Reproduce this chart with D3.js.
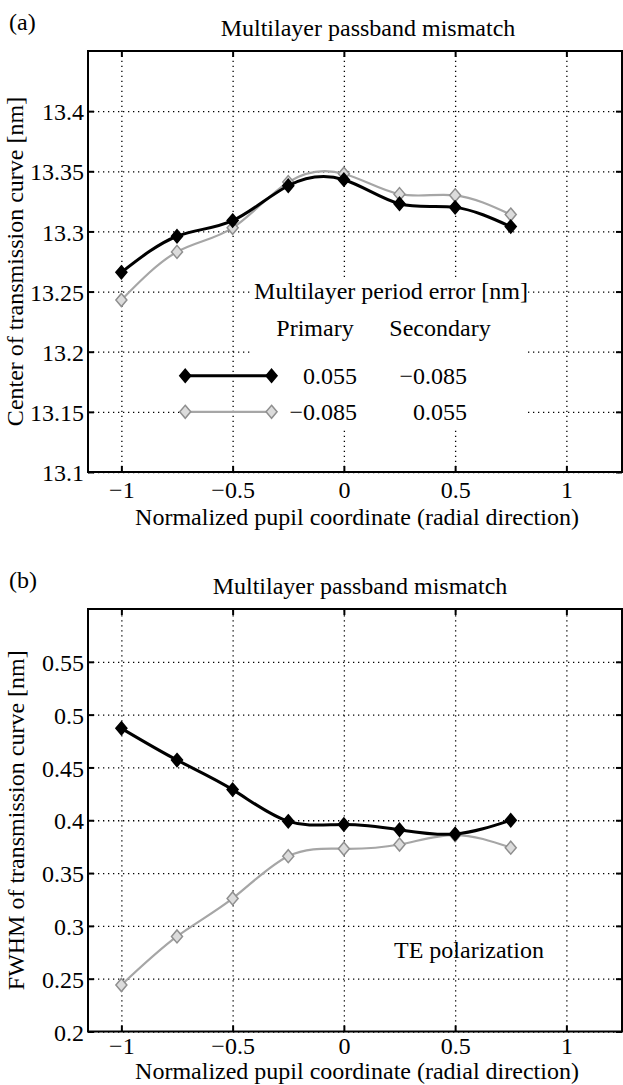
<!DOCTYPE html>
<html>
<head>
<meta charset="utf-8">
<script src="https://cdn.jsdelivr.net/npm/d3@7"></script>
<style>
  body { margin: 0; background: #fff; }
  svg { display: block; font-family: "Liberation Serif", "Times New Roman", serif; font-size: 24px; }
</style>
</head>
<body>
<svg id="chart" width="623" height="1085"></svg>
<script>
// pupil positions shared by both panels
const pupil = [-1, -0.75, -0.5, -0.25, 0, 0.25, 0.5, 0.75];
const xTicks = [-1, -0.5, 0, 0.5, 1];

// (a) center of transmission curve [nm]
const centerPrimary = [13.266, 13.296, 13.309, 13.338, 13.343, 13.323, 13.320, 13.304];
const centerSecondary = [13.243, 13.283, 13.303, 13.341, 13.348, 13.331, 13.330, 13.314];
const centerTicks = [13.1, 13.15, 13.2, 13.25, 13.3, 13.35, 13.4];

// (b) FWHM of transmission curve [nm]
const fwhmPrimary = [0.487, 0.457, 0.429, 0.399, 0.396, 0.391, 0.387, 0.400];
const fwhmSecondary = [0.244, 0.290, 0.326, 0.366, 0.373, 0.377, 0.386, 0.374];
const fwhmTicks = [0.2, 0.25, 0.3, 0.35, 0.4, 0.45, 0.5, 0.55];

// legend: multilayer period error [nm]
const periodPrimary = ["0.055", "\u22120.085"];
const periodSecondary = ["\u22120.085", "0.055"];

const svg = d3.select("#chart");
const left = 88, right = 622;

const fmt = d => String(d).replace("-", "\u2212");

// diamond marker, a bit taller than wide
const diamond = "M0,-6.5L5.5,0L0,6.5L-5.5,0Z";

const styles = [
  { stroke: "#000", width: 3, mFill: "#000", mStroke: "#000" },
  { stroke: "#a6a6a6", width: 2.2, mFill: "#dcdcdc", mStroke: "#8f8f8f" }
];

function drawPanel(p) {
  const x = d3.scaleLinear().domain([-1.15, 1.25]).range([left, right]);
  const y = d3.scaleLinear().domain(p.yDomain).range([p.bottom, p.top]);
  const h = p.bottom - p.top, w = right - left;
  const g = svg.append("g");

  // dotted grid
  g.append("g")
    .attr("transform", `translate(0,${p.bottom})`)
    .call(d3.axisBottom(x).tickValues(xTicks).tickSize(-h).tickFormat(""))
    .call(a => a.select(".domain").remove());
  g.append("g")
    .attr("transform", `translate(${left},0)`)
    .call(d3.axisLeft(y).tickValues(p.yTicks).tickSize(-w).tickFormat(""))
    .call(a => a.select(".domain").remove());
  g.selectAll(".tick line")
    .attr("stroke", "#000")
    .attr("stroke-width", 1.3)
    .attr("stroke-dasharray", "1.3,3.7");

  // white legend box hides the grid
  if (p.legend) {
    g.append("rect")
      .attr("x", 253).attr("y", 277)
      .attr("width", 275).attr("height", 151)
      .attr("fill", "#fff");
  }

  // inward ticks on all four sides
  const tickStyle = a => {
    a.select(".domain").remove();
    a.selectAll("line").attr("stroke", "#000").attr("stroke-width", 2);
  };
  const bx = g.append("g")
    .attr("transform", `translate(0,${p.bottom})`)
    .call(d3.axisBottom(x).tickValues(xTicks).tickSizeInner(-6).tickSizeOuter(0).tickFormat(fmt))
    .call(tickStyle);
  bx.selectAll("text").attr("dy", null).attr("y", p.tickY)
    .attr("font-size", 24).attr("font-family", "Liberation Serif").attr("fill", "#000");
  g.append("g")
    .attr("transform", `translate(0,${p.top})`)
    .call(d3.axisTop(x).tickValues(xTicks).tickSizeInner(-6).tickSizeOuter(0).tickFormat(""))
    .call(tickStyle);
  const ly = g.append("g")
    .attr("transform", `translate(${left},0)`)
    .call(d3.axisLeft(y).tickValues(p.yTicks).tickSizeInner(-6).tickSizeOuter(0).tickFormat(fmt))
    .call(tickStyle);
  ly.selectAll("text").attr("x", -4).attr("dy", "0.36em")
    .attr("font-size", 24).attr("font-family", "Liberation Serif").attr("fill", "#000");
  g.append("g")
    .attr("transform", `translate(${right},0)`)
    .call(d3.axisRight(y).tickValues(p.yTicks).tickSizeInner(-6).tickSizeOuter(0).tickFormat(""))
    .call(tickStyle);

  // frame
  g.append("rect")
    .attr("x", left).attr("y", p.top)
    .attr("width", w).attr("height", h)
    .attr("fill", "none").attr("stroke", "#000").attr("stroke-width", 2);

  // series, drawn secondary first so black stays on top
  [1, 0].forEach(k => {
    const vals = p.series[k], s = styles[k];
    const line = d3.line()
      .x((d, i) => x(pupil[i]))
      .y(d => y(d))
      .curve(d3.curveNatural);
    g.append("path")
      .attr("d", line(vals))
      .attr("fill", "none")
      .attr("stroke", s.stroke)
      .attr("stroke-width", s.width);
    g.selectAll(null)
      .data(vals)
      .join("path")
      .attr("d", diamond)
      .attr("transform", (d, i) => `translate(${x(pupil[i])},${y(d)})`)
      .attr("fill", s.mFill)
      .attr("stroke", s.mStroke)
      .attr("stroke-width", 1.5);
  });

  // titles and labels
  svg.append("text").attr("x", 9).attr("y", p.top - 21).text(p.tag);
  svg.append("text").attr("x", p.titleX).attr("y", p.top - 15)
    .attr("text-anchor", "middle").text("Multilayer passband mismatch");
  svg.append("text").attr("x", (left + right) / 2 + 2).attr("y", p.xlabelY)
    .attr("text-anchor", "middle").text("Normalized pupil coordinate (radial direction)");
  svg.append("text")
    .attr("transform", `translate(${p.ylabelX},${(p.top + p.bottom) / 2}) rotate(-90)`)
    .attr("text-anchor", "middle").text(p.ylabel);

  if (p.legend) {
    g.append("text").attr("x", 391).attr("y", 299)
      .attr("text-anchor", "middle").text("Multilayer period error [nm]");
    g.append("text").attr("x", 315).attr("y", 336)
      .attr("text-anchor", "middle").text("Primary");
    g.append("text").attr("x", 440).attr("y", 336)
      .attr("text-anchor", "middle").text("Secondary");
    const rowsY = [y(13.18), y(13.15)];
    [0, 1].forEach(k => {
      const s = styles[k], ry = rowsY[k];
      g.append("line")
        .attr("x1", x(-0.713)).attr("x2", x(-0.325))
        .attr("y1", ry).attr("y2", ry)
        .attr("stroke", s.stroke).attr("stroke-width", s.width);
      [-0.713, -0.325].forEach(v => {
        g.append("path").attr("d", diamond)
          .attr("transform", `translate(${x(v)},${ry})`)
          .attr("fill", s.mFill).attr("stroke", s.mStroke).attr("stroke-width", 1.5);
      });
      g.append("text").attr("x", 357).attr("y", ry).attr("dy", "0.33em")
        .attr("text-anchor", "end").text(periodPrimary[k]);
      g.append("text").attr("x", 467).attr("y", ry).attr("dy", "0.33em")
        .attr("text-anchor", "end").text(periodSecondary[k]);
    });
  }
  if (p.note) {
    g.append("text").attr("x", 469).attr("y", 958)
      .attr("text-anchor", "middle").text(p.note);
  }
}

drawPanel({
  tag: "(a)", top: 51, bottom: 472, yDomain: [13.1, 13.45], yTicks: centerTicks,
  series: [centerPrimary, centerSecondary], titleX: 368, tickY: 26, xlabelY: 525,
  ylabel: "Center of transmission curve [nm]", ylabelX: 23, legend: true
});
drawPanel({
  tag: "(b)", top: 609, bottom: 1031.5, yDomain: [0.2, 0.6], yTicks: fwhmTicks,
  series: [fwhmPrimary, fwhmSecondary], titleX: 360, tickY: 22, xlabelY: 1079,
  ylabel: "FWHM of transmission curve [nm]", ylabelX: 24, note: "TE polarization"
});
</script>
</body>
</html>
